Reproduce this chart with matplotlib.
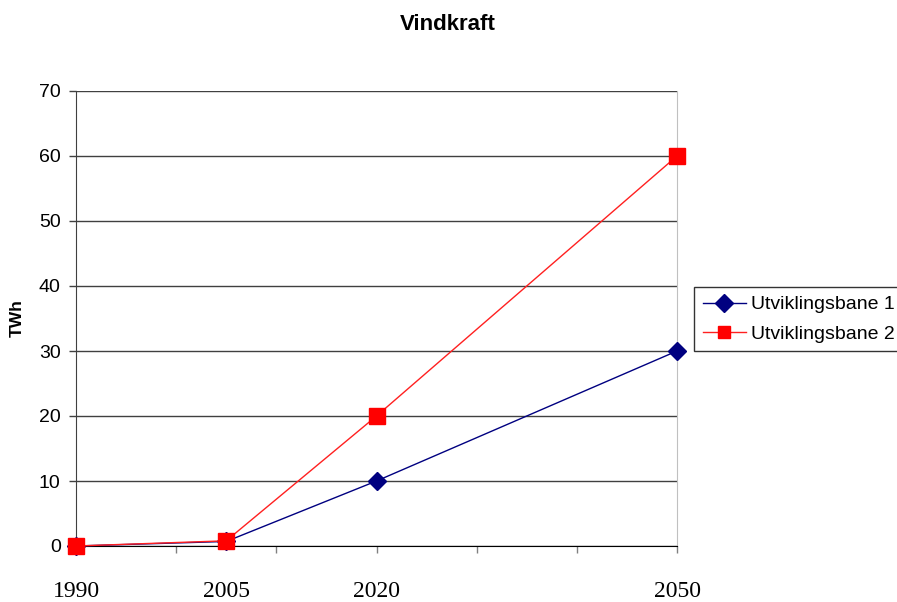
import matplotlib
matplotlib.use("Agg")
import matplotlib.pyplot as plt

years = [1990, 2005, 2020, 2050]
bane1 = [0, 0.7, 10, 30]
bane2 = [0, 0.8, 20, 60]
series_names = ["Utviklingsbane 1", "Utviklingsbane 2"]
year_labels = ["1990", "2005", "2020", "2050"]
y_ticks = [0, 10, 20, 30, 40, 50, 60, 70]
x_ticks = [1990, 2000, 2010, 2020, 2030, 2040, 2050]

plt.rcParams["font.family"] = ["Liberation Sans", "DejaVu Sans"]

fig = plt.figure(figsize=(8.97, 6.02), dpi=100)
ax = fig.add_axes([76 / 897, 1 - 546 / 602, (677 - 76) / 897, (546 - 91) / 602])

ax.plot(years, bane1, color="#000080", lw=1, marker="D", markersize=9.5,
        markerfacecolor="#000080", markeredgecolor="#000080",
        label=series_names[0], zorder=3, clip_on=False)
ax.plot(years, bane2, color="#ff2020", lw=1, marker="s", markersize=11,
        markerfacecolor="#ff0000", markeredgecolor="#ff0000",
        label=series_names[1], zorder=4, clip_on=False)

ax.set_xlim(1990, 2050)
ax.set_ylim(0, 70)
ax.set_yticks(y_ticks)
ax.set_xticks(x_ticks)
ax.set_xticklabels([])
ax.tick_params(axis="y", labelsize=14, length=5, width=1, color="#404040", pad=6)
ax.tick_params(axis="x", length=5, width=1, color="#808080")
ax.yaxis.grid(True, color="#404040", lw=1)
ax.set_axisbelow(True)
ax.spines["top"].set_visible(False)
ax.spines["right"].set_color("#c0c0c0")
ax.spines["left"].set_color("#404040")
ax.spines["bottom"].set_color("black")
ax.spines["bottom"].set_zorder(2.5)

# year labels set below the axis in a serif face
for yr, lab in zip(years, year_labels):
    ax.text(yr, -7.0, lab, ha="center", va="center", fontsize=17,
            family=["Liberation Serif", "DejaVu Serif"], clip_on=False)

ax.set_ylabel("TWh", fontsize=12.5, fontweight="bold", labelpad=10)
fig.text(448 / 897, 1 - 25 / 602, "Vindkraft", ha="center", va="center",
         fontsize=16, fontweight="bold")

leg = fig.legend(loc="upper left", bbox_to_anchor=(694 / 897, 1 - 287 / 602),
                 fontsize=14, frameon=True, fancybox=False, edgecolor="black",
                 borderpad=0.45, handlelength=2.2, labelspacing=0.6, handletextpad=0.3,
                 borderaxespad=0)
leg.get_frame().set_linewidth(1)
for h in leg.legend_handles:
    h.set_markersize(9)

fig.savefig("out.png", dpi=100)
